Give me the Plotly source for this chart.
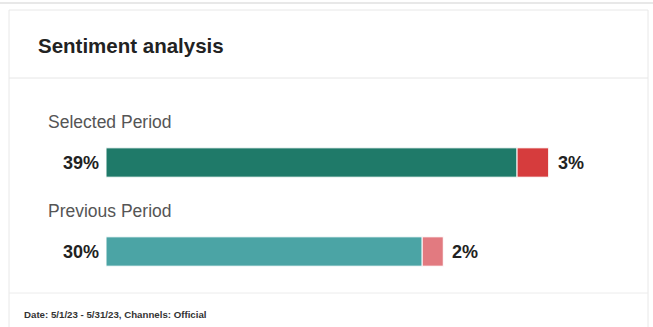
import plotly.graph_objects as go

W, H = 653, 327

periods = ["Selected Period", "Previous Period"]
positive = [39, 30]
negative = [3, 2]
pos_colors = ["#1f7a69", "#4ba4a5"]
neg_colors = ["#d63c3d", "#e27a80"]
title_text = "Sentiment analysis"
footer_text = "Date: 5/1/23 - 5/31/23, Channels: Official"

def px(x):
    return x / W

def py(y):
    return 1 - y / H

fig = go.Figure()

fig.add_trace(go.Bar(
    y=periods, x=positive, orientation="h", width=0.33,
    marker=dict(color=pos_colors, line=dict(color="white", width=1)),
    hoverinfo="skip", showlegend=False,
))
fig.add_trace(go.Bar(
    y=periods, x=negative, base=positive, orientation="h", width=0.33,
    marker=dict(color=neg_colors, line=dict(color="white", width=1)),
    hoverinfo="skip", showlegend=False,
))

annotations = []
for i, p in enumerate(periods):
    annotations.append(dict(
        x=0, y=p, xref="x", yref="y", text=f"{positive[i]}%", showarrow=False,
        xanchor="right", yanchor="middle", xshift=-5,
        font=dict(family="Liberation Sans", size=18, color="#222222", weight="bold"),
    ))
    annotations.append(dict(
        x=positive[i] + negative[i], y=p, xref="x", yref="y", text=f"{negative[i]}%",
        showarrow=False, xanchor="left", yanchor="middle", xshift=7,
        font=dict(family="Liberation Sans", size=18, color="#222222", weight="bold"),
    ))
    annotations.append(dict(
        x=0, y=p, xref="x", yref="y", text=p, showarrow=False,
        xanchor="left", yanchor="middle", xshift=-60, yshift=41,
        font=dict(family="Liberation Sans", size=17.5, color="#555555"),
    ))

annotations.append(dict(
    x=px(36), y=py(45), xref="paper", yref="paper", text=title_text, showarrow=False,
    xanchor="left", yanchor="middle",
    font=dict(family="Liberation Sans", size=20.5, color="#222222", weight="bold"),
))
annotations.append(dict(
    x=px(22), y=py(314), xref="paper", yref="paper", text=footer_text, showarrow=False,
    xanchor="left", yanchor="middle",
    font=dict(family="Liberation Sans", size=9.7, color="#333333", weight="bold"),
))

shapes = [
    dict(type="rect", xref="paper", yref="paper", x0=px(9), x1=px(648), y0=py(10), y1=py(335),
         line=dict(color="#e8e8e8", width=1), fillcolor="rgba(0,0,0,0)", layer="below"),
    dict(type="line", xref="paper", yref="paper", x0=px(9), x1=px(648), y0=py(78), y1=py(78),
         line=dict(color="#e6e6e6", width=1)),
    dict(type="line", xref="paper", yref="paper", x0=px(9), x1=px(648), y0=py(293), y1=py(293),
         line=dict(color="#ececec", width=1)),
    dict(type="line", xref="paper", yref="paper", x0=px(0), x1=px(653), y0=py(3), y1=py(3),
         line=dict(color="#e8e8e8", width=2)),
]

px_per_unit = 10.54
x0_px = 106
y_unit = 89.0
y0_px = 162.5

fig.update_layout(
    width=W, height=H,
    margin=dict(l=0, r=0, t=0, b=0),
    paper_bgcolor="white", plot_bgcolor="white",
    barmode="overlay",
    xaxis=dict(range=[-x0_px / px_per_unit, (W - x0_px) / px_per_unit],
               visible=False, fixedrange=True),
    yaxis=dict(type="category", categoryarray=periods,
               range=[(H - y0_px) / y_unit, -y0_px / y_unit],
               visible=False, fixedrange=True),
    annotations=annotations,
    shapes=shapes,
)

fig.write_html(
    "out.html",
    config={"displayModeBar": False},
    post_script="document.body.style.margin='0';document.body.style.overflow='hidden';",
)
